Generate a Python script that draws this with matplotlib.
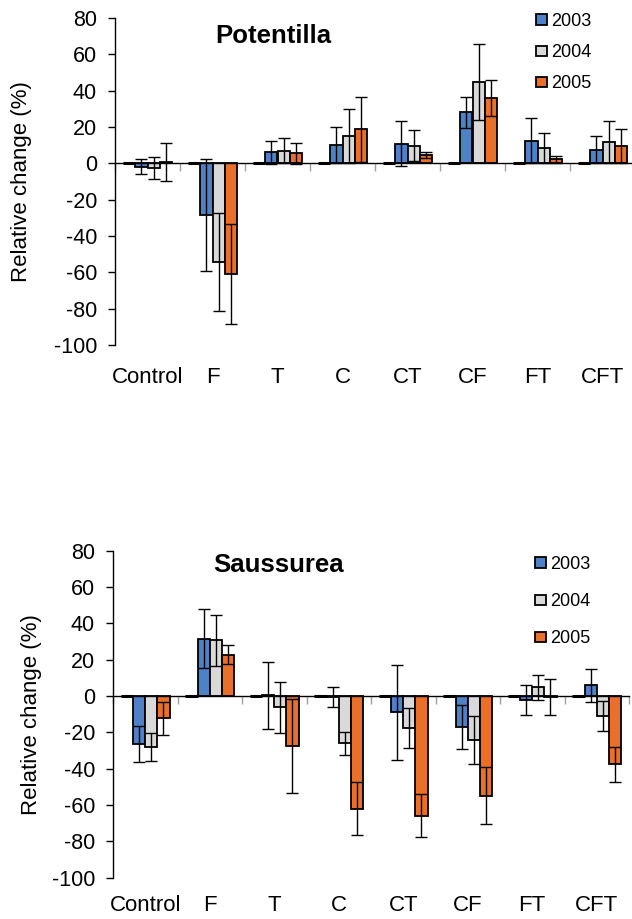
import numpy as np
import matplotlib
matplotlib.use('Agg')
import matplotlib.pyplot as plt
from matplotlib.patches import Patch
from matplotlib.transforms import blended_transform_factory

plt.rcParams['font.family'] = ['Liberation Sans', 'DejaVu Sans']
plt.rcParams['axes.unicode_minus'] = False

treatments = ['Control', 'F', 'T', 'C', 'CT', 'CF', 'FT', 'CFT']
years = ['2003', '2004', '2005']
colors = ['#4F81C6', '#D9D9D9', '#E8702A']

# Potentilla
pot_2003 = [-1.8, -28.5, 6.2, 10.1, 10.8, 28.1, 12.5, 7.5]
pot_2004 = [-2.6, -54.1, 7.0, 15.0, 9.7, 44.8, 8.4, 11.9]
pot_2005 = [0.5, -60.9, 5.5, 18.7, 4.6, 36.0, 2.2, 9.5]
pot_err_2003 = [4.0, 31.0, 6.3, 9.9, 12.3, 8.4, 12.3, 7.5]
pot_err_2004 = [6.0, 27.0, 7.0, 14.9, 8.4, 20.7, 8.1, 11.6]
pot_err_2005 = [10.5, 27.3, 5.8, 18.0, 1.8, 9.9, 2.0, 9.4]

# Saussurea
sau_2003 = [-26.4, 31.6, 0.4, -0.5, -9.0, -17.0, -2.2, 5.9]
sau_2004 = [-27.9, 30.6, -6.2, -26.0, -17.6, -24.2, 4.8, -11.0]
sau_2005 = [-12.3, 22.8, -27.3, -62.0, -65.9, -55.0, -0.6, -37.6]
sau_err_2003 = [10.0, 16.2, 18.3, 5.3, 26.0, 12.0, 8.4, 9.2]
sau_err_2004 = [7.6, 14.0, 14.2, 6.4, 11.0, 13.2, 6.8, 8.4]
sau_err_2005 = [9.0, 5.3, 25.9, 14.7, 11.9, 15.7, 9.8, 9.6]

# empty first series in each group (shows as a short dash at zero)
blank = [0] * 8

fig = plt.figure(figsize=(6.32, 9.19), dpi=100)
W, H = 632, 919


def panel(rect, title, vals, errs, title_xy, leg_xy, leg_space, ylab_x, cat_y):
    ax = fig.add_axes(rect)
    x = np.arange(len(treatments))
    w = 0.188
    ax.bar(x - 1.5 * w, blank, w, color='none', edgecolor='black', linewidth=2.2, zorder=2)
    for i, (v, e) in enumerate(zip(vals, errs)):
        xi = x + (i - 0.5) * w
        ax.bar(xi, v, w, color=colors[i], edgecolor='black', linewidth=1.3, zorder=2)
        ax.errorbar(xi, v, yerr=e, fmt='none', ecolor='black', elinewidth=1.0,
                    capsize=4, capthick=1.0, zorder=3)
    ax.set_xlim(-0.5, len(treatments) - 0.5)
    ax.set_ylim(-100, 80)
    ax.set_yticks(np.arange(-100, 81, 20))
    ax.tick_params(axis='y', labelsize=15.5, length=5, width=1, direction='out', pad=8)
    ax.set_ylabel('Relative change (%)', fontsize=16)
    ax.yaxis.set_label_coords(ylab_x, 0.5)
    for s in ['top', 'right']:
        ax.spines[s].set_visible(False)
    ax.spines['bottom'].set_position(('data', 0))
    ax.spines['bottom'].set_linewidth(1.0)
    ax.spines['left'].set_linewidth(1.0)
    ax.set_xticks(np.arange(-0.5, len(treatments) + 0.5, 1))
    ax.set_xticklabels([])
    ax.tick_params(axis='x', length=6, color='#A0A0A0', width=1, direction='out')
    tr = blended_transform_factory(ax.transData, ax.transAxes)
    for xi, lab in zip(x, treatments):
        ax.text(xi, cat_y, lab, transform=tr, ha='center', va='center', fontsize=16)
    fig.text(title_xy[0] / W, 1 - title_xy[1] / H, title, fontsize=18.5,
             fontweight='bold', ha='left', va='center')
    handles = [Patch(facecolor=c, edgecolor='black', linewidth=1.3) for c in colors]
    fig.legend(handles, years, loc='upper left',
               bbox_to_anchor=(leg_xy[0] / W, 1 - leg_xy[1] / H), frameon=False,
               fontsize=13, handlelength=0.62, handleheight=0.5, handletextpad=0.2,
               labelspacing=leg_space, borderpad=0, borderaxespad=0)
    return ax


panel([115 / W, 1 - 345 / H, 520 / W, 327 / H], 'Potentilla',
      [pot_2003, pot_2004, pot_2005], [pot_err_2003, pot_err_2004, pot_err_2005],
      (215, 36), (536, 13), 0.78, -0.16, -0.098)
panel([113 / W, 1 - 877.7 / H, 516 / W, 327 / H], 'Saussurea',
      [sau_2003, sau_2004, sau_2005], [sau_err_2003, sau_err_2004, sau_err_2005],
      (213, 565), (535, 556), 1.12, -0.138, -0.085)

fig.savefig('out.png', dpi=100)
